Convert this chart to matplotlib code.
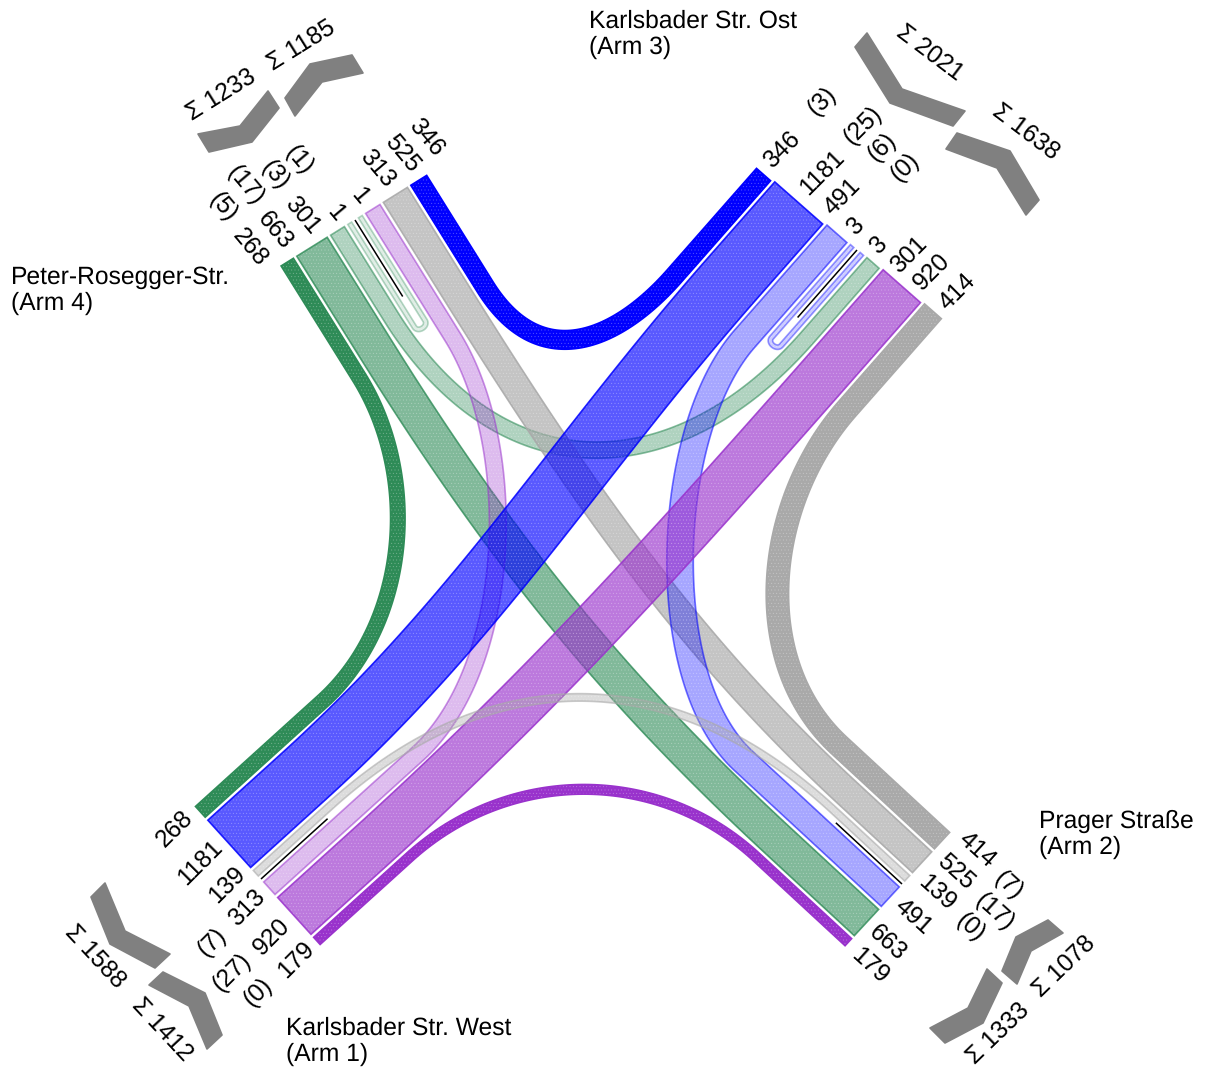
import numpy as np
import matplotlib
matplotlib.use('Agg')
import matplotlib.pyplot as plt
from matplotlib.patches import Polygon

plt.rcParams['font.family'] = ['Liberation Sans', 'DejaVu Sans']
plt.rcParams['hatch.linewidth'] = 0.3
plt.rcParams['text.hinting'] = 'no_hinting'

# traffic flows: value, both arms, colour, opacity
flow_names = ['a', 'b', 'c', 'd', 'e', 'f', 'g', 'h', 'i', 'j', 'k', 'l', 'm', 'n']
flow_values = [268, 663, 301, 1, 313, 525, 346, 1181, 491, 3, 920, 414, 139, 179]
flow_arm_a = [4, 4, 4, 4, 4, 4, 4, 3, 3, 3, 3, 3, 1, 1]
flow_arm_b = [1, 2, 3, 4, 1, 2, 3, 1, 2, 3, 1, 2, 2, 2]
flow_colors = ['#2E8B57', '#2E8B57', '#2E8B57', '#2E8B57', '#9932CC', '#A9A9A9', '#0000FF',
               '#0000FF', '#0000FF', '#0000FF', '#9932CC', '#A9A9A9', '#A9A9A9', '#9932CC']
flow_alpha = [1, .6, .38, .15, .33, .68, 1, .65, .35, .2, .65, 1, .4, 1]

# order on each arm, left to right looking from the arm end; '|' is the black divider
arm_order = {
    4: ['a', 'b', 'c', 'd1', '|', 'd2', 'e', 'f', 'g'],
    3: ['g', 'h', 'i', 'j1', '|', 'j2', 'c', 'k', 'l'],
    1: ['a', 'h', 'm', '|', 'e', 'k', 'n'],
    2: ['l', 'f', 'm', '|', 'i', 'b', 'n'],
}
arm_divider = {4: (355, 220), 3: (857, 250), 1: (261, 879), 2: (902, 884)}
arm_stack = {4: (.849, -.528), 3: (.778, .628), 1: (.67, .742), 2: (-.678, .735)}
arm_in = {4: (.53, .85), 3: (-.66, .75), 1: (.74, -.67), 2: (-.735, -.68)}

# lead / handle lengths of the centre lines
shape = {
    'a': (135, 117, 165, 117), 'b': (120, 230, 120, 230), 'c': (100, 205, 100, 205),
    'd': (122, 7, 122, 7), 'e': (150, 130, 200, 130), 'f': (100, 230, 100, 230),
    'g': (125, 105, 135, 85), 'h': (100, 240, 100, 240), 'i': (140, 122, 200, 122),
    'j': (122, 7, 122, 7), 'k': (100, 240, 100, 240), 'l': (130, 125, 140, 125),
    'm': (100, 219, 100, 219), 'n': (125, 134, 125, 134),
}

divider_len = 90
scale = 0.054
min_width = 4.5
gap = 4.0
mid_gap = 4.0

arm_labels = {
    4: ['268', '663', '301', '1', '1', '313', '525', '346'],
    3: ['346', '1181', '491', '3', '3', '301', '920', '414'],
    1: ['268', '1181', '139', '313', '920', '179'],
    2: ['414', '525', '139', '491', '663', '179'],
}
label_pos = {
    4: [(250, 247), (275, 230), (302, 215), (335, 213), (359, 196), (377, 168), (402, 153), (426, 137)],
    3: [(782, 150), (822, 173), (842, 197), (855, 226), (878, 245), (909, 255), (932, 272), (957, 292)],
    1: [(175, 829), (200, 863), (227, 885), (247, 908), (272, 937), (296, 960)],
    2: [(977, 850), (956, 872), (937, 893), (913, 917), (888, 943), (870, 966)],
}
label_rot = {4: -50, 3: 45, 1: 45, 2: -42}

paren_labels = {
    4: ['(5)', '(17)', '(3)', '(1)'], 3: ['(3)', '(25)', '(6)', '(0)'],
    1: ['(7)', '(27)', '(0)'], 2: ['(7)', '(17)', '(0)'],
}
paren_pos = {
    4: [(223, 207), (245, 185), (275, 175), (299, 160)],
    3: [(822, 101), (863, 125), (882, 147), (905, 167)],
    1: [(212, 942), (232, 972), (258, 992)],
    2: [(1008, 885), (995, 912), (970, 927)],
}

sum_labels = ['Σ 1233', 'Σ 1185', 'Σ 2021', 'Σ 1638', 'Σ 1588', 'Σ 1412', 'Σ 1333', 'Σ 1078']
sum_pos = [(221, 95), (301, 45), (930, 53), (1026, 132), (95, 957), (162, 1030), (998, 1033), (1064, 966)]
sum_rot = [32, 32, -37, -37, -47, -47, 44, 44]
arrows = [
    [(268, 91), (279, 108), (252, 142), (209, 152), (198, 134), (240, 126)],
    [(285, 98), (295, 116), (322, 82), (363, 73), (352, 55), (310, 64)],
    [(867, 33), (855, 47), (890, 103), (953, 126), (965, 111), (902, 89)],
    [(957, 133), (946, 149), (997, 168), (1026, 215), (1039, 200), (1010, 151)],
    [(105, 883), (91, 897), (110, 944), (155, 968), (170, 954), (125, 931)],
    [(163, 972), (149, 985), (189, 1006), (207, 1049), (222, 1035), (205, 993)],
    [(987, 969), (1002, 983), (983, 1023), (945, 1043), (930, 1028), (968, 1008)],
    [(1048, 920), (1063, 933), (1031, 951), (1017, 984), (1002, 971), (1016, 937)],
]

arm_names = ['Karlsbader Str. Ost\n(Arm 3)', 'Prager Straße\n(Arm 2)',
             'Peter-Rosegger-Str.\n(Arm 4)', 'Karlsbader Str. West\n(Arm 1)']
name_pos = [(589, 10), (1039, 810), (11, 266), (286, 1017)]


def width_of(name):
    return max(flow_values[flow_names.index(name[0])] * scale, min_width)


def stack_arm(arm):
    # centre of every band end, measured out from the divider
    order = arm_order[arm]
    k = order.index('|')
    d = np.array(arm_divider[arm], float)
    s = np.array(arm_stack[arm])
    out = {}
    pos = -mid_gap
    for n in reversed(order[:k]):
        w = width_of(n)
        out[n] = d + s * (pos - w / 2)
        pos -= w + gap
    pos = mid_gap
    for n in order[k + 1:]:
        w = width_of(n)
        out[n] = d + s * (pos + w / 2)
        pos += w + gap
    return out


def centre_line(p0, d0, p1, d1, sh):
    la, ha, lb, hb = sh
    a = p0 + d0 * la
    b = p1 + d1 * lb
    c1 = a + d0 * ha
    c2 = b + d1 * hb
    t = np.linspace(0, 1, 200)[:, None]
    curve = (1 - t) ** 3 * a + 3 * (1 - t) ** 2 * t * c1 + 3 * (1 - t) * t ** 2 * c2 + t ** 3 * b
    return np.vstack([p0, curve, p1])


def band(line, w, color, alpha, ax):
    seg = np.diff(line, axis=0)
    seg = seg / np.maximum(np.hypot(seg[:, 0], seg[:, 1])[:, None], 1e-9)
    tan = np.vstack([seg[0], (seg[:-1] + seg[1:]) / 2, seg[-1]])
    tan = tan / np.maximum(np.hypot(tan[:, 0], tan[:, 1])[:, None], 1e-9)
    nor = np.column_stack([-tan[:, 1], tan[:, 0]])
    left = line + nor * w / 2
    right = line - nor * w / 2
    xy = np.vstack([left, right[::-1]])
    rgb = matplotlib.colors.to_rgb(color)
    ax.add_patch(Polygon(xy, closed=True, facecolor=(*rgb, alpha), edgecolor='none'))
    ax.add_patch(Polygon(xy, closed=True, facecolor='none', hatch='.....',
                         edgecolor=(1, 1, 1, 0.3), linewidth=0))
    ax.add_patch(Polygon(xy, closed=True, facecolor='none',
                         edgecolor=(*rgb, min(alpha + .2, 1)), linewidth=1.2))


fig = plt.figure(figsize=(12.12, 10.70), dpi=100)
ax = fig.add_axes([0, 0, 1, 1])
ax.set_xlim(0, 1212)
ax.set_ylim(1070, 0)
ax.axis('off')

ends = {a: stack_arm(a) for a in arm_order}

for i, n in enumerate(flow_names):
    a, b = flow_arm_a[i], flow_arm_b[i]
    if a == b:
        p0, p1 = ends[a][n + '1'], ends[a][n + '2']
    else:
        p0, p1 = ends[a][n], ends[b][n]
    line = centre_line(p0, np.array(arm_in[a]), p1, np.array(arm_in[b]), shape[n])
    band(line, width_of(n), flow_colors[i], flow_alpha[i], ax)

for arm in arm_divider:
    d = np.array(arm_divider[arm], float)
    e = d + np.array(arm_in[arm]) * divider_len
    ax.plot([d[0], e[0]], [d[1], e[1]], color='black', lw=1.1, solid_capstyle='butt')

for arm in arm_labels:
    for t, p in zip(arm_labels[arm], label_pos[arm]):
        ax.text(p[0], p[1], t, fontsize=17.7, rotation=label_rot[arm], ha='center', va='center',
                rotation_mode='anchor')
    for t, p in zip(paren_labels[arm], paren_pos[arm]):
        ax.text(p[0], p[1], t, fontsize=17.7, rotation=label_rot[arm], ha='center', va='center',
                rotation_mode='anchor')

for t, p, r in zip(sum_labels, sum_pos, sum_rot):
    ax.text(p[0], p[1], t, fontsize=17.7, rotation=r, ha='center', va='center', rotation_mode='anchor')

for poly in arrows:
    ax.add_patch(Polygon(poly, closed=True, facecolor='#808080', edgecolor='#808080',
                         linewidth=1.2, joinstyle='round'))

for t, p in zip(arm_names, name_pos):
    ax.text(p[0], p[1], t, fontsize=17.7, ha='left', va='top', linespacing=1.14)

fig.savefig('out.png', dpi=100)
